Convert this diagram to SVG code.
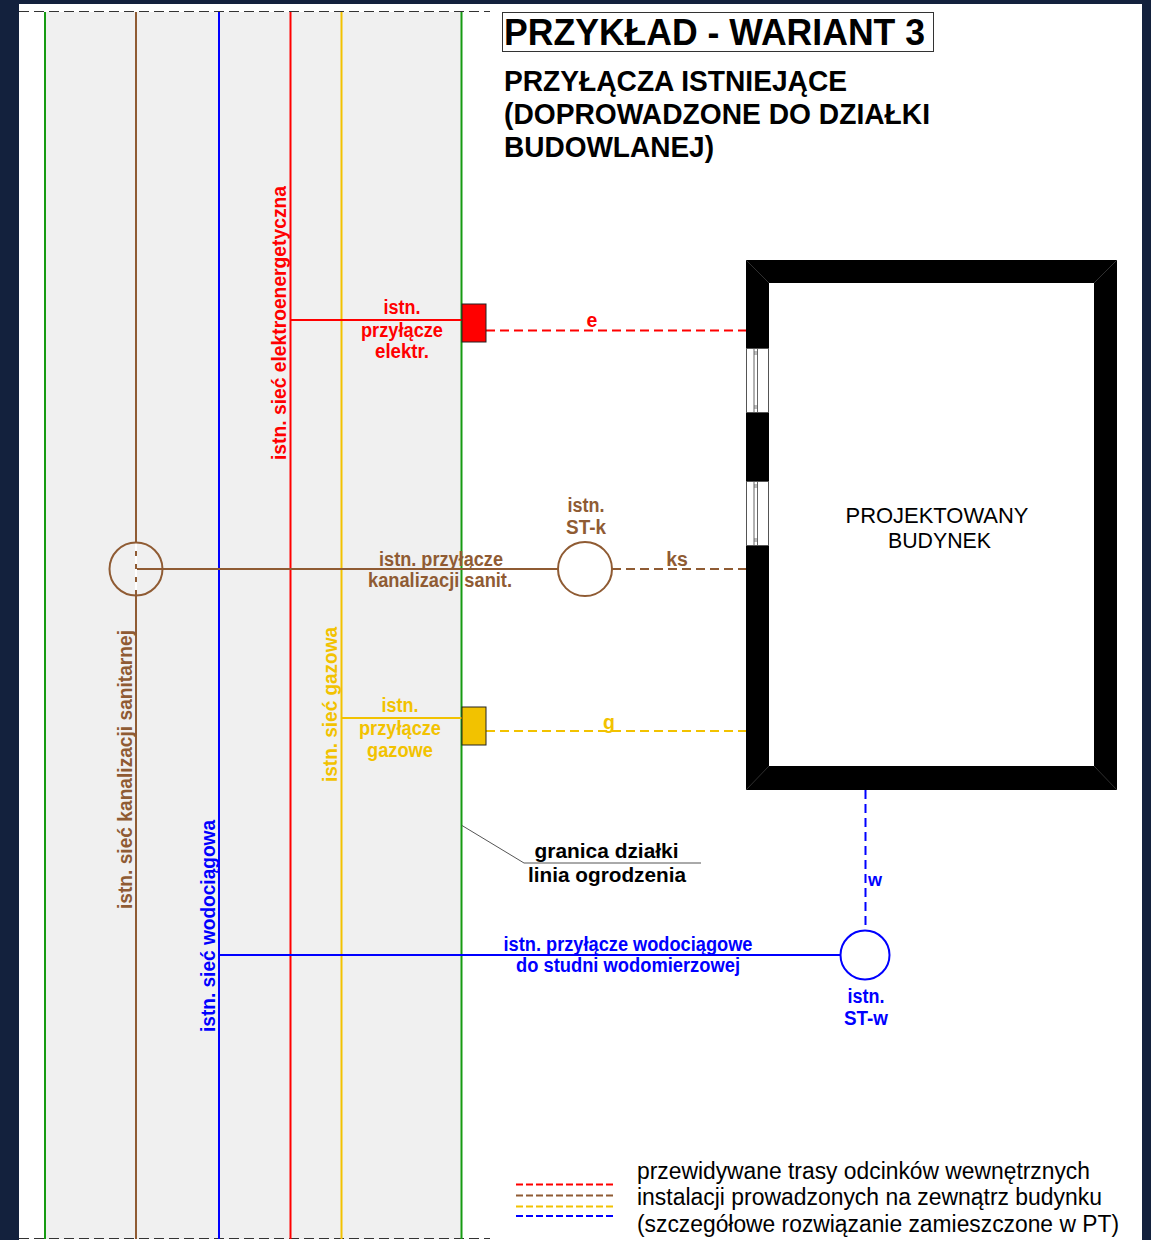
<svg xmlns="http://www.w3.org/2000/svg" width="1151" height="1240" viewBox="0 0 1151 1240">
<style>
text{font-family:"Liberation Sans",Arial,sans-serif;text-anchor:middle;font-size:19.5px}
.b{font-weight:bold}
.l{fill:none;stroke-width:2}
.d{fill:none;stroke-width:2;stroke-dasharray:9 5}
.red{fill:#f00}.brn{fill:#8f5b33}.yel{fill:#f2c200}.blu{fill:#00f}
.sred{stroke:#f00}.sbrn{stroke:#8f5b33}.syel{stroke:#f2c200}.sblu{stroke:#00f}.sgrn{stroke:#169b12}
.win{fill:#fff;stroke:#555;stroke-width:1}
</style>
<rect width="1151" height="1240" fill="#13213d"/>
<rect x="19" y="4" width="1123" height="1236" fill="#fff"/>
<g id="plot">
<rect x="45" y="12" width="417" height="1227" fill="#f0f0f0"/>
<path d="M19 11.500H490M19 1238.500H490" fill="none" stroke="#333" stroke-width="1" stroke-dasharray="10 5"/>
</g>
<g id="connectors">
<path class="l sgrn" d="M45 12V1239"/>
<path class="l sbrn" d="M136 12V1239"/>
<path class="l sblu" d="M219 12V1239"/>
<path class="l sred" d="M290.500 12V1239"/>
<path class="l syel" d="M341.500 12V1239"/>
<path class="l sgrn" d="M461.500 12V1239"/>
<path class="l sred" d="M290 320H462"/>
<path class="l sbrn" d="M136 569H558"/>
<path class="l syel" d="M341 718H462"/>
<path class="l sblu" d="M219 955H840"/>
<path class="d sred" d="M486 330.500H746"/>
<path class="d sbrn" d="M612 569H746"/>
<path class="d syel" d="M486 731H746"/>
<path class="d sblu" d="M865.500 790V930"/>
<path d="M462 825.500L524 863H701" fill="none" stroke="#555" stroke-width="1"/>
<path d="M136 543V595" fill="none" stroke="#fff" stroke-width="2" stroke-dasharray="8 5"/>
</g>
<g id="building">
<rect x="746" y="260" width="371" height="530" fill="#000"/>
<rect x="769" y="283" width="325" height="483" fill="#fff"/>
<path d="M746 260L769 283M1117 260L1094 283M746 790L769 766M1117 790L1094 766" stroke="#444" stroke-width="0.700"/>
<rect class="win" x="746.500" y="348.500" width="22" height="64"/>
<rect class="win" x="746.500" y="481.500" width="22" height="64"/>
<path d="M754 349V412M757.500 349V412M754 482V545M757.500 482V545" stroke="#666" stroke-width="1" fill="none"/>
<path d="M754 352H757.500M754 354H757.500M754 406H757.500M754 408H757.500M754 485H757.500M754 487H757.500M754 539H757.500M754 541H757.500" stroke="#555" stroke-width="0.800" fill="none"/>
<text x="937" y="523" style="font-size:22px" textLength="183" lengthAdjust="spacingAndGlyphs">PROJEKTOWANY</text>
<text x="939.500" y="548" style="font-size:22px" textLength="103" lengthAdjust="spacingAndGlyphs">BUDYNEK</text>
</g>
<g id="title">
<rect x="502.500" y="12.500" width="431" height="39" fill="#fff" stroke="#333" stroke-width="1"/>
<text class="b" x="504" y="45" style="text-anchor:start;font-size:36px" textLength="421" lengthAdjust="spacingAndGlyphs">PRZYKŁAD - WARIANT 3</text>
<text class="b" x="504" y="91" style="text-anchor:start;font-size:29px" textLength="343" lengthAdjust="spacingAndGlyphs">PRZYŁĄCZA ISTNIEJĄCE</text>
<text class="b" x="504" y="124" style="text-anchor:start;font-size:29px" textLength="426" lengthAdjust="spacingAndGlyphs">(DOPROWADZONE DO DZIAŁKI</text>
<text class="b" x="504" y="157" style="text-anchor:start;font-size:29px" textLength="210" lengthAdjust="spacingAndGlyphs">BUDOWLANEJ)</text>
</g>
<g id="net-labels" class="b">
<text class="red" transform="translate(286 323) rotate(-90)" textLength="274" lengthAdjust="spacingAndGlyphs">istn. sieć elektroenergetyczna</text>
<text class="brn" transform="translate(132 769.500) rotate(-90)" textLength="279" lengthAdjust="spacingAndGlyphs">istn. sieć kanalizacji sanitarnej</text>
<text class="yel" transform="translate(337 704.500) rotate(-90)" textLength="155" lengthAdjust="spacingAndGlyphs">istn. sieć gazowa</text>
<text class="blu" transform="translate(215 926) rotate(-90)" textLength="212" lengthAdjust="spacingAndGlyphs">istn. sieć wodociągowa</text>
</g>
<g id="przylacze-e">
<rect x="462" y="304" width="24" height="38" fill="#f00" stroke="#222" stroke-width="1"/>
<text class="b red" x="402" y="314" textLength="37" lengthAdjust="spacingAndGlyphs">istn.</text>
<text class="b red" x="402" y="337" textLength="82" lengthAdjust="spacingAndGlyphs">przyłącze</text>
<text class="b red" x="402" y="358" textLength="54" lengthAdjust="spacingAndGlyphs">elektr.</text>
<text class="b red" x="592" y="327">e</text>
</g>
<g id="przylacze-k">
<circle cx="136" cy="569" r="26.500" fill="none" stroke="#8f5b33" stroke-width="2"/>
<circle cx="585" cy="569" r="27" fill="#fff" stroke="#8f5b33" stroke-width="2"/>
<text class="b brn" x="586" y="512" textLength="37" lengthAdjust="spacingAndGlyphs">istn.</text>
<text class="b brn" x="586" y="534" textLength="40" lengthAdjust="spacingAndGlyphs">ST-k</text>
<text class="b brn" x="441" y="566" textLength="124" lengthAdjust="spacingAndGlyphs">istn. przyłącze</text>
<text class="b brn" x="440" y="587" textLength="144" lengthAdjust="spacingAndGlyphs">kanalizacji sanit.</text>
<text class="b brn" x="677" y="566">ks</text>
</g>
<g id="przylacze-g">
<rect x="462" y="707" width="24" height="38" fill="#f2c200" stroke="#222" stroke-width="1"/>
<text class="b yel" x="400" y="712" textLength="37" lengthAdjust="spacingAndGlyphs">istn.</text>
<text class="b yel" x="400" y="735" textLength="82" lengthAdjust="spacingAndGlyphs">przyłącze</text>
<text class="b yel" x="400" y="757" textLength="66" lengthAdjust="spacingAndGlyphs">gazowe</text>
<text class="b yel" x="609" y="729">g</text>
</g>
<g id="przylacze-w">
<circle cx="865" cy="955" r="24.500" fill="#fff" stroke="#00f" stroke-width="2"/>
<text class="b blu" x="875" y="886" style="font-size:18px">w</text>
<text class="b blu" x="628" y="951" textLength="249" lengthAdjust="spacingAndGlyphs">istn. przyłącze wodociągowe</text>
<text class="b blu" x="628" y="972" textLength="224" lengthAdjust="spacingAndGlyphs">do studni wodomierzowej</text>
<text class="b blu" x="866" y="1003" textLength="37" lengthAdjust="spacingAndGlyphs">istn.</text>
<text class="b blu" x="866" y="1025" textLength="44" lengthAdjust="spacingAndGlyphs">ST-w</text>
</g>
<g id="granica">
<text class="b" x="606.500" y="858" style="font-size:21px" textLength="144" lengthAdjust="spacingAndGlyphs">granica działki</text>
<text class="b" x="607" y="882" style="font-size:21px" textLength="158" lengthAdjust="spacingAndGlyphs">linia ogrodzenia</text>
</g>
<g id="legend">
<path class="d sred" d="M516 1184.500H616" style="stroke-dasharray:7 3"/>
<path class="d sbrn" d="M516 1195.500H616" style="stroke-dasharray:7 3"/>
<path class="d syel" d="M516 1206.500H616" style="stroke-dasharray:7 3"/>
<path class="d sblu" d="M516 1216H616" style="stroke-dasharray:7 3"/>
<text x="637" y="1179" style="text-anchor:start;font-size:23px" textLength="453" lengthAdjust="spacingAndGlyphs">przewidywane trasy odcinków wewnętrznych</text>
<text x="637" y="1205" style="text-anchor:start;font-size:23px" textLength="465" lengthAdjust="spacingAndGlyphs">instalacji prowadzonych na zewnątrz budynku</text>
<text x="637" y="1232" style="text-anchor:start;font-size:23px" textLength="482" lengthAdjust="spacingAndGlyphs">(szczegółowe rozwiązanie zamieszczone w PT)</text>
</g>
</svg>
